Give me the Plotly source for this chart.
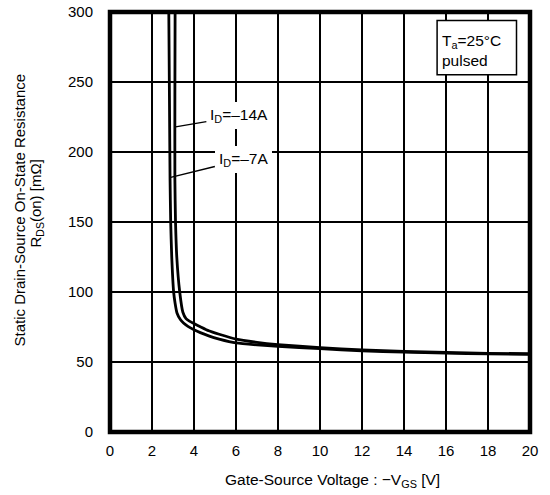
import plotly.graph_objects as go

# ---- data ----
vgs_7a = [2.80, 2.83, 2.86, 2.89, 2.94, 3.03, 3.10, 3.19, 3.35, 3.50, 3.71, 4.00, 4.30, 4.70, 5.20, 6.0, 7.0, 8.0, 10, 12, 14, 16, 18, 20]
r_7a = [300, 240, 180, 150, 125, 100, 92, 85, 80.3, 77.8, 75.4, 73.0, 71.0, 68.7, 66.4, 63.6, 62.2, 61.2, 59.5, 58.0, 57.0, 56.3, 55.8, 55.5]

vgs_14a = [3.10, 3.09, 3.09, 3.12, 3.18, 3.32, 3.47, 3.62, 3.80, 4.00, 4.30, 4.70, 5.20, 6.0, 7.0, 8.0, 10, 12, 14, 16, 18, 20]
r_14a = [300, 240, 180, 150, 125, 100, 85.5, 81.0, 79.0, 77.5, 75.2, 72.3, 69.8, 66.3, 64.0, 62.4, 60.2, 58.6, 57.5, 56.8, 56.2, 55.9]

x_ticks = [0, 2, 4, 6, 8, 10, 12, 14, 16, 18, 20]
y_ticks = [0, 50, 100, 150, 200, 250, 300]

FONT = "Liberation Sans, Arial, sans-serif"

fig = go.Figure()
for xs, ys in ((vgs_7a, r_7a), (vgs_14a, r_14a)):
    fig.add_trace(go.Scatter(x=xs, y=ys, mode="lines",
                             line=dict(color="black", width=2.8, shape="spline", smoothing=0.5),
                             showlegend=False, hoverinfo="skip"))

W, H = 550, 495
L, R, T, B = 110.2, 19.8, 12.3, 62.7
pw = W - L - R
ph = H - T - B

def px(xp):
    return (xp - L) / pw

def py(yp):
    return (H - B - yp) / ph

annotations = [
    dict(x=3.12, y=218, ax=6.16, ay=225.8, axref="x", ayref="y", xref="x", yref="y",
         text="I<sub>D</sub>=\u201314A", showarrow=True, arrowhead=0, arrowwidth=1.3,
         arrowcolor="black", bgcolor="white", borderpad=4, borderwidth=0,
         font=dict(family=FONT, size=15.5, color="black")),
    dict(x=2.89, y=181.8, ax=6.35, ay=194.7, axref="x", ayref="y", xref="x", yref="y",
         text="I<sub>D</sub>=\u20137A", showarrow=True, arrowhead=0, arrowwidth=1.3,
         arrowcolor="black", bgcolor="white", borderpad=4, borderwidth=0,
         font=dict(family=FONT, size=15.5, color="black")),
    dict(x=px(440.5), y=py(51), xref="paper", yref="paper", xanchor="left", yanchor="middle",
         text="T<sub>a</sub>=25\u00b0C<br>pulsed", showarrow=False, align="left",
         font=dict(family=FONT, size=15.5, color="black")),
    dict(x=px(332.2), y=py(481), xref="paper", yref="paper", xanchor="center", yanchor="middle",
         text="Gate-Source Voltage : \u2212V<sub>GS</sub> [V]", showarrow=False,
         font=dict(family=FONT, size=15.5, color="black")),
    dict(x=px(20), y=py(210), xref="paper", yref="paper", xanchor="center", yanchor="middle",
         text="Static Drain-Source On-State Resistance", textangle=-90, showarrow=False,
         font=dict(family=FONT, size=15, color="black")),
    dict(x=px(37), y=py(204), xref="paper", yref="paper", xanchor="center", yanchor="middle",
         text="R<sub>DS</sub>(on) [m\u03a9]", textangle=-90, showarrow=False,
         font=dict(family=FONT, size=15, color="black")),
]

shapes = [
    dict(type="rect", xref="paper", yref="paper", x0=px(437.3), x1=px(516.7), y0=py(75), y1=py(20.7),
         fillcolor="white", line=dict(color="black", width=1.5), layer="above"),
    dict(type="rect", xref="paper", yref="paper", x0=0, x1=1, y0=0, y1=1,
         line=dict(color="black", width=4.5), layer="above"),
]

fig.update_layout(
    width=W, height=H,
    margin=dict(l=L, r=R, t=T, b=B, pad=0, autoexpand=False),
    paper_bgcolor="white", plot_bgcolor="white",
    annotations=annotations,
    shapes=shapes,
    xaxis=dict(range=[0, 20], tickmode="array", tickvals=x_ticks, ticktext=[str(v) for v in x_ticks],
               showgrid=True, gridcolor="black", gridwidth=2.2, zeroline=False, showline=False,
               automargin=False, ticklabeloverflow="allow",
               ticks="", ticklabelstandoff=8, tickfont=dict(family=FONT, size=15, color="black"),
               fixedrange=True),
    yaxis=dict(range=[0, 300], tickmode="array", tickvals=y_ticks, ticktext=[str(v) for v in y_ticks],
               showgrid=True, gridcolor="black", gridwidth=2.2, zeroline=False, showline=False,
               automargin=False, ticklabeloverflow="allow",
               ticks="", ticklabelstandoff=16, tickfont=dict(family=FONT, size=15, color="black"),
               fixedrange=True),
)

fig.write_html("out.html", config={"displayModeBar": False},
               post_script="document.body.style.margin='0px';")
